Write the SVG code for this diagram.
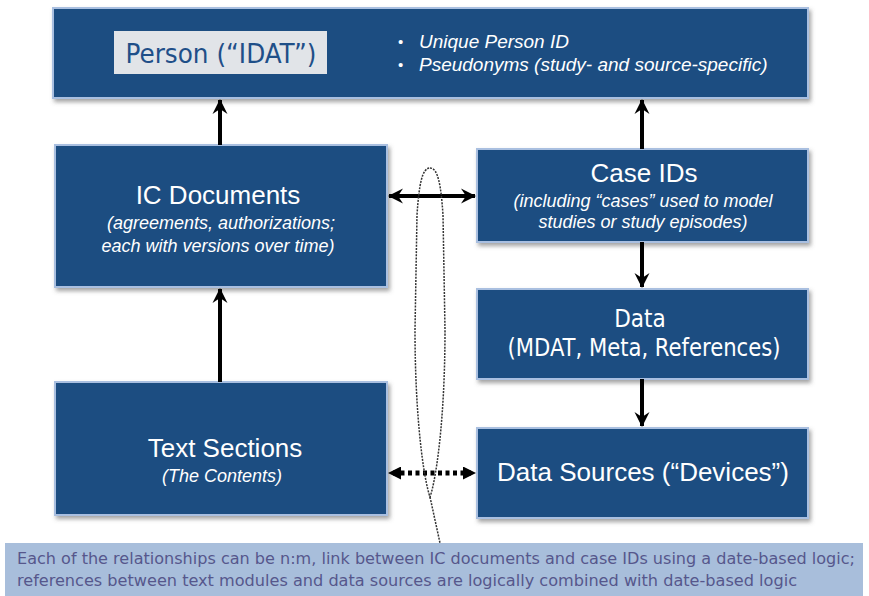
<svg xmlns="http://www.w3.org/2000/svg" width="869" height="596" viewBox="0 0 869 596">
  <defs>
    <filter id="shadow" x="-5%" y="-10%" width="115%" height="130%">
      <feDropShadow dx="2" dy="3" stdDeviation="2" flood-color="#555" flood-opacity="0.55"/>
    </filter>
    <marker id="head" viewBox="0 0 16 16" markerWidth="16" markerHeight="16" refX="14" refY="8" orient="auto-start-reverse" markerUnits="userSpaceOnUse">
      <path d="M0,0.5 L15,8 L0,15.5 L5,8 Z" fill="#000"/>
    </marker>
    <marker id="tri" viewBox="0 0 13 13" markerWidth="13" markerHeight="13" refX="12" refY="6.5" orient="auto-start-reverse" markerUnits="userSpaceOnUse">
      <path d="M0,0 L13,6.5 L0,13 Z" fill="#000"/>
    </marker>
  </defs>
  <style>
    .box { fill: #1b4e81; stroke: #a9bfe0; stroke-width: 2; filter: url(#shadow); }
    .title { font-family: "Liberation Sans", Arial, sans-serif; font-size: 26px; fill: #fff; text-anchor: middle; }
    .sub { font-family: "Liberation Sans", Arial, sans-serif; font-size: 18px; font-style: italic; fill: #fff; text-anchor: middle; }
    .bullet { font-family: "Liberation Sans", Arial, sans-serif; font-size: 19px; font-style: italic; fill: #fff; }
    .dotmark { font-family: "Liberation Sans", Arial, sans-serif; font-size: 15px; fill: #fff; }
    .cond { font-family: "DejaVu Sans Condensed", "DejaVu Sans", sans-serif; }
    .conn { stroke: #000; stroke-width: 4; fill: none; }
    .dot { stroke: #000; stroke-width: 5; stroke-dasharray: 4 3.5; fill: none; }
    .loop { stroke: #333; stroke-width: 1.5; stroke-dasharray: 2 1.2; fill: none; }
    .note { font-family: "DejaVu Sans Condensed", "DejaVu Sans", sans-serif; font-size: 16px; fill: #56578c; }
  </style>

  <!-- footer note band -->
  <rect x="5" y="543" width="858" height="53" fill="#a8bedb"/>
  <text class="note" x="17" y="564" textLength="838" lengthAdjust="spacingAndGlyphs">Each of the relationships can be n:m, link between IC documents and case IDs using a date-based logic;</text>
  <text class="note" x="17" y="586" textLength="780" lengthAdjust="spacingAndGlyphs">references between text modules and data sources are logically combined with date-based logic</text>

  <g id="person">
    <rect class="box" x="53" y="8" width="755" height="90"/>
    <rect x="114" y="31" width="213" height="43" fill="#e1e4e8"/>
    <text class="cond" x="221" y="63" font-size="26" fill="#1f4f88" text-anchor="middle" textLength="191" lengthAdjust="spacingAndGlyphs">Person (“IDAT”)</text>
    <text class="dotmark" x="398" y="47">•</text>
    <text class="bullet" x="419" y="48">Unique Person ID</text>
    <text class="dotmark" x="398" y="70">•</text>
    <text class="bullet" x="419" y="71">Pseudonyms (study- and source-specific)</text>
  </g>

  <g id="ic-documents">
    <rect class="box" x="55" y="145" width="332" height="142"/>
    <text class="title" x="218" y="204" font-size="27">IC Documents</text>
    <text class="sub" x="221" y="229">(agreements, authorizations;</text>
    <text class="sub" x="218" y="252">each with versions over time)</text>
  </g>

  <g id="text-sections">
    <rect class="box" x="55" y="382" width="332" height="133"/>
    <text class="title" x="225" y="457" font-size="27">Text Sections</text>
    <text class="sub" x="222" y="482">(The Contents)</text>
  </g>

  <g id="case-ids">
    <rect class="box" x="477" y="149" width="331" height="93"/>
    <text class="title" x="644" y="182" font-size="27">Case IDs</text>
    <text class="sub" x="643" y="207">(including “cases” used to model</text>
    <text class="sub" x="643" y="228">studies or study episodes)</text>
  </g>

  <g id="data">
    <rect class="box" x="477" y="289" width="331" height="90"/>
    <text class="cond" x="640" y="327" font-size="24" fill="#fff" text-anchor="middle">Data</text>
    <text class="cond" x="644" y="356" font-size="24" fill="#fff" text-anchor="middle" textLength="273" lengthAdjust="spacingAndGlyphs">(MDAT, Meta, References)</text>
  </g>

  <g id="data-sources">
    <rect class="box" x="477" y="428" width="331" height="90"/>
    <text class="title" x="643" y="481" font-size="27">Data Sources (“Devices”)</text>
  </g>

  <g id="connectors">
    <line class="conn" x1="220" y1="145" x2="220" y2="100" marker-end="url(#head)"/>
    <line class="conn" x1="642" y1="149" x2="642" y2="100" marker-end="url(#head)"/>
    <line class="conn" x1="220" y1="382" x2="220" y2="289" marker-end="url(#head)"/>
    <line class="conn" x1="389" y1="196" x2="475" y2="196" marker-start="url(#head)" marker-end="url(#head)"/>
    <line class="conn" x1="642" y1="242" x2="642" y2="287" marker-end="url(#head)"/>
    <line class="conn" x1="642" y1="379" x2="642" y2="426" marker-end="url(#head)"/>
    <line class="dot" x1="393" y1="473" x2="471" y2="473"/>
    <line x1="389" y1="473" x2="475" y2="473" stroke="none" marker-start="url(#tri)" marker-end="url(#tri)"/>
    <!-- grouping loop with leader line to the note -->
    <path class="loop" d="M430,168 C438,168 441,185 443,215 L445,330 C445,420 436,480 430,497 C424,480 415,420 415,330 L417,215 C419,185 422,168 430,168 Z"/>
    <path class="loop" d="M430,497 L440,543"/>
  </g>
</svg>
